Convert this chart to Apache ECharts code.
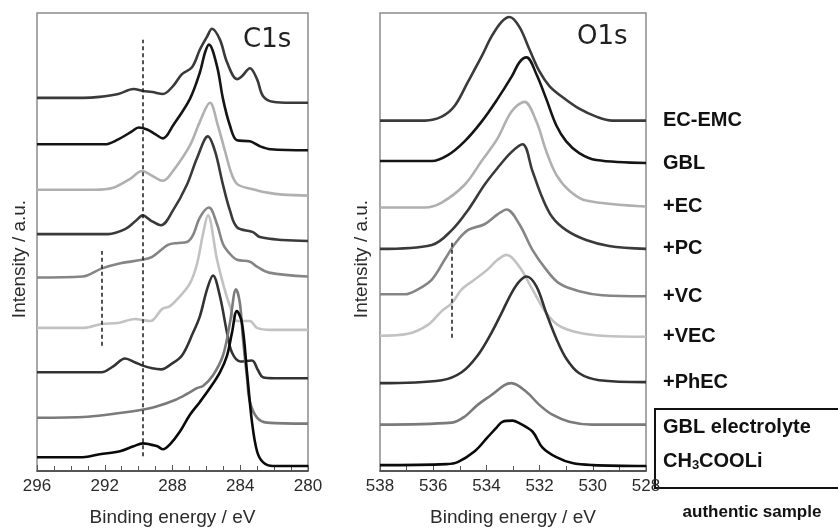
<!DOCTYPE html>
<html>
<head>
<meta charset="utf-8">
<script src="https://cdn.jsdelivr.net/npm/echarts@6/dist/echarts.min.js"></script>
<style>
  html, body { margin: 0; padding: 0; background: #fff; }
  #chart { width: 838px; height: 532px; }
</style>
</head>
<body>
<div id="chart"></div>
<script>
// Sample names, top to bottom in each stack
const samples = ['EC-EMC', 'GBL', '+EC', '+PC', '+VC', '+VEC', '+PhEC', 'GBL electrolyte', 'CH3COOLi'];
const lineColors = ['#3a3a3a', '#151515', '#b0b0b0', '#3a3a3a', '#858585', '#c2c2c2', '#333333', '#7a7a7a', '#0a0a0a'];

// Axis ranges / ticks (binding energy, eV)
const c1sRange = [280, 296];
const o1sRange = [528, 538];
const c1sTickStep = 4;
const o1sTickStep = 2;

// C1s spectra: [binding energy (eV), intensity (a.u., stacked)]
const c1s_ECEMC = [[296,378],[293.3,378],[292.3,379],[291.2,382],[290.3,387],[289.75,385],[289.2,384],[288.56,382],[287.97,390],[287.44,402],[286.85,409],[286.38,427],[285.96,440],[285.67,448],[285.2,437],[284.78,414],[284.19,397],[283.9,400],[283.43,408],[283.01,397],[282.66,380],[282.07,374],[281,373],[280,373]];
const c1s_GBL = [[296,331],[292.0,331],[291.2,336],[290.4,344],[290.0,348],[289.5,346],[289.0,341],[288.56,337],[287.97,350],[286.97,377],[286.38,404],[286.08,424],[285.85,432],[285.37,410],[285.02,377],[284.61,350],[284.19,335],[283.43,334],[282.84,329],[282.2,326],[280,325]];
const c1s_EC = [[296,285],[292.6,285],[291.5,287],[290.5,296],[289.8,304],[289.3,300],[288.56,294],[287.97,304],[286.97,330],[286.38,354],[285.79,373],[285.32,350],[284.9,324],[284.49,300],[284.13,290],[283.13,285],[282.4,282],[281.5,280],[280,279]];
const c1s_PC = [[296,240],[291.8,240],[290.8,245],[290.2,253],[289.75,259],[289.3,254],[288.68,249],[287.97,264],[287.15,290],[286.55,317],[285.91,339],[285.49,324],[285.02,290],[284.61,264],[284.19,247],[283.25,242],[282.84,237],[281.5,234],[280,233]];
const c1s_VC = [[296,196],[293.3,197],[292.2,205],[291.2,210],[289.8,214],[289.2,217],[288.27,229],[287.68,231],[287.15,232],[286.79,239],[286.38,257],[285.85,267],[285.37,250],[285.02,230],[284.61,220],[284.19,214],[283.43,212],[283.01,207],[282.3,201],[280,197]];
const c1s_VEC = [[296,145],[293.2,145],[292.2,149],[291.2,150],[290.2,154],[289.8,153],[289.3,152],[288.62,164],[288.15,167],[287.56,177],[286.97,190],[286.55,210],[286.2,240],[285.91,259],[285.37,214],[285.02,190],[284.61,167],[284.19,152],[283.43,152],[283.01,145],[282.2,143],[280,143]];
const c1s_PhEC = [[296,100],[292.2,100],[291.5,106],[290.8,114],[290.2,110],[289.8,107],[289.2,104],[288.65,103],[288.1,108],[287.44,117],[286.79,140],[286.38,157],[285.96,184],[285.61,198],[285.2,177],[284.78,140],[284.49,120],[284.0,111],[283.31,112],[282.95,102],[282.66,95],[282.0,94],[280,94]];
const c1s_GBLelec = [[296,54],[293,55],[291,59],[289.8,62],[289.0,65],[287.85,72],[287.15,78],[286.55,84],[286.2,86],[285.61,97],[285.02,117],[284.61,150],[284.25,184],[284.02,170],[283.84,134],[283.6,94],[283.43,70],[283.01,54],[282.42,49],[280,48]];
const c1s_CH3COOLi = [[296,14],[293.3,14],[292.3,17],[291.1,20],[290.3,25],[289.75,28],[288.9,25],[288.56,22],[288.15,27],[287.56,40],[286.97,57],[286.38,70],[285.79,84],[285.2,100],[284.78,117],[284.49,140],[284.2,162],[283.9,150],[283.6,100],[283.31,50],[283.01,20],[282.66,9],[282.07,5],[280,5]];

// O1s spectra: [binding energy (eV), intensity (a.u., stacked)]
const o1s_ECEMC = [[538,355],[536.31,355],[535.68,359],[535.19,370],[534.7,394],[534.18,420],[533.81,440],[533.43,455],[533.13,460],[532.76,450],[532.38,427],[532.01,405],[531.63,390],[531.15,379],[530.51,367],[529.87,359],[529.27,355],[528,355]];
const o1s_GBL = [[538,314],[536.05,314],[535.45,320],[534.82,334],[534.18,354],[533.58,377],[533.04,400],[532.76,414],[532.49,419],[532.12,402],[531.75,377],[531.37,350],[531.0,334],[530.51,322],[529.87,315],[528,312]];
const o1s_EC = [[538,267],[536.31,267],[535.68,272],[534.82,290],[534.18,314],[533.58,337],[533.06,364],[532.57,374],[532.12,354],[531.75,324],[531.37,300],[530.88,284],[530.25,274],[528,268]];
const o1s_PC = [[538,225],[536.05,229],[535.3,244],[534.7,264],[534.07,290],[533.58,307],[533.06,323],[532.64,331],[532.27,304],[531.9,277],[531.52,257],[531.0,244],[530.25,234],[529.39,228],[528,225]];
const o1s_VC = [[538,179],[537.06,179],[536.58,184],[536.05,194],[535.57,214],[535.19,230],[534.7,244],[534.07,250],[533.58,260],[533.24,265],[532.76,250],[532.27,224],[531.75,204],[531.26,190],[530.51,182],[529.65,178],[528,177]];
const o1s_VEC = [[538,137],[536.95,139],[536.2,148],[535.68,162],[535.3,170],[534.93,184],[534.44,194],[533.96,204],[533.58,214],[533.24,219],[532.76,207],[532.27,184],[531.75,160],[531.26,147],[530.51,140],[529.65,137],[528,136]];
const o1s_PhEC = [[538,89],[535.68,92],[534.93,100],[534.33,117],[533.81,140],[533.43,160],[533.06,180],[532.76,192],[532.49,197],[532.12,187],[531.75,160],[531.37,134],[531.0,114],[530.51,99],[529.76,92],[528,90]];
const o1s_GBLelec = [[538,47],[535.3,49],[534.82,55],[534.33,67],[533.81,77],[533.32,87],[533.06,89],[532.49,80],[532.01,67],[531.52,57],[530.88,50],[530.02,47],[528,47]];
const o1s_CH3COOLi = [[538,6],[535.5,7],[535.08,9],[534.44,20],[533.96,34],[533.62,44],[533.39,50],[533.02,51],[532.8,49],[532.27,40],[531.9,24],[531.37,14],[530.77,8],[530.0,6],[528,5]];

// Reference markers (dashed guides): energy and intensity span
const c1sGuides = [[289.75, 15, 437], [292.2, 127, 223]];
const o1sGuides = [[535.3, 135, 232]];

const c1sSeriesData = [c1s_ECEMC, c1s_GBL, c1s_EC, c1s_PC, c1s_VC, c1s_VEC, c1s_PhEC, c1s_GBLelec, c1s_CH3COOLi];
const o1sSeriesData = [o1s_ECEMC, o1s_GBL, o1s_EC, o1s_PC, o1s_VC, o1s_VEC, o1s_PhEC, o1s_GBLelec, o1s_CH3COOLi];

const SANS = '"Liberation Sans", Arial, Helvetica, sans-serif';
const textDark = '#2b2b2b';

function guideMarkLine(guides) {
  return {
    silent: true,
    symbol: 'none',
    label: { show: false },
    lineStyle: { color: '#1a1a1a', width: 1.5, type: [4, 3] },
    data: guides.map(g => [{ coord: [g[0], g[1]] }, { coord: [g[0], g[2]] }])
  };
}

// Sample names sit just right of the O1s curve ends (energy axis is reversed)
function sampleLabel(name) {
  const base = {
    show: true,
    distance: 17,
    color: '#111',
    fontFamily: SANS,
    fontWeight: 'bold',
    fontSize: 20,
    align: 'left',
    verticalAlign: 'middle',
    offset: [34, 0]
  };
  if (name === 'CH3COOLi') {
    return Object.assign(base, {
      offset: [34, -5],
      formatter: '{n|CH}{s|3}{n|COOLi}',
      rich: {
        n: { fontFamily: SANS, fontWeight: 'bold', fontSize: 20, color: '#111' },
        s: { fontFamily: SANS, fontWeight: 'bold', fontSize: 13, color: '#111', verticalAlign: 'bottom', padding: [9, 0, 0, 0] }
      }
    });
  }
  if (name === 'GBL electrolyte') {
    return Object.assign(base, { offset: [34, 3], formatter: name });
  }
  return Object.assign(base, { formatter: name });
}

const series = [];
c1sSeriesData.forEach((d, i) => {
  const s = {
    name: 'C1s ' + samples[i],
    type: 'line',
    xAxisIndex: 0,
    yAxisIndex: 0,
    data: d,
    showSymbol: false,
    smooth: 0.35,
    lineStyle: { color: lineColors[i], width: 2.6 },
    itemStyle: { color: lineColors[i] },
    z: 2
  };
  if (i === 0) s.markLine = guideMarkLine(c1sGuides);
  series.push(s);
});
o1sSeriesData.forEach((d, i) => {
  const s = {
    name: 'O1s ' + samples[i],
    type: 'line',
    xAxisIndex: 1,
    yAxisIndex: 1,
    data: d,
    showSymbol: false,
    smooth: 0.35,
    lineStyle: { color: lineColors[i], width: 2.6 },
    itemStyle: { color: lineColors[i] },
    endLabel: sampleLabel(samples[i]),
    z: 2
  };
  if (i === 0) s.markLine = guideMarkLine(o1sGuides);
  series.push(s);
});

function energyAxis(gridIndex, range, step, minorSplit) {
  return {
    type: 'value',
    gridIndex: gridIndex,
    min: range[0],
    max: range[1],
    interval: step,
    inverse: true,
    name: 'Binding energy / eV',
    nameLocation: 'middle',
    nameGap: 37,
    nameTextStyle: { fontFamily: SANS, fontSize: 19, color: textDark },
    axisLine: { show: true, onZero: false, lineStyle: { color: '#3a3a3a', width: 1.5 } },
    axisTick: { show: true, inside: true, length: 6, lineStyle: { color: '#555', width: 1 } },
    minorTick: { show: true, splitNumber: minorSplit, length: 5, lineStyle: { color: '#555', width: 1 } },
    axisLabel: { fontFamily: SANS, fontSize: 17, color: textDark, margin: 7 },
    splitLine: { show: false }
  };
}

function intensityAxis(gridIndex) {
  return {
    type: 'value',
    gridIndex: gridIndex,
    min: 0,
    max: 464,
    axisLine: { show: false },
    axisTick: { show: false },
    axisLabel: { show: false },
    splitLine: { show: false }
  };
}

const option = {
  animation: false,
  backgroundColor: '#ffffff',
  grid: [
    { left: 37, top: 13, width: 271, height: 464, show: true, borderColor: '#8c8c8c', borderWidth: 1.5, backgroundColor: 'transparent' },
    { left: 380, top: 13, width: 266, height: 464, show: true, borderColor: '#8c8c8c', borderWidth: 1.5, backgroundColor: 'transparent' }
  ],
  xAxis: [
    energyAxis(0, c1sRange, c1sTickStep, 4),
    energyAxis(1, o1sRange, o1sTickStep, 2)
  ],
  yAxis: [intensityAxis(0), intensityAxis(1)],
  series: series,
  graphic: [
    { type: 'text', left: 243, top: 27, style: { text: 'C1s', font: '26px "DejaVu Sans", "Open Sans", sans-serif', fill: '#222' } },
    { type: 'text', left: 577, top: 24, style: { text: 'O1s', font: '26px "DejaVu Sans", "Open Sans", sans-serif', fill: '#222' } },
    { type: 'text', x: 20, y: 259, rotation: Math.PI / 2, style: { text: 'Intensity / a.u.', font: '19px ' + SANS, fill: textDark, align: 'center', verticalAlign: 'middle' } },
    { type: 'text', x: 362, y: 259, rotation: Math.PI / 2, style: { text: 'Intensity / a.u.', font: '19px ' + SANS, fill: textDark, align: 'center', verticalAlign: 'middle' } },
    { type: 'rect', shape: { x: 655, y: 409, width: 200, height: 79 }, style: { fill: 'none', stroke: '#111', lineWidth: 2 } },
    { type: 'text', x: 752, y: 512, style: { text: 'authentic sample', font: 'bold 17px ' + SANS, fill: '#111', align: 'center', verticalAlign: 'middle' } }
  ]
};

const chart = echarts.init(document.getElementById('chart'), null, { renderer: 'canvas' });
chart.setOption(option);
</script>
</body>
</html>
